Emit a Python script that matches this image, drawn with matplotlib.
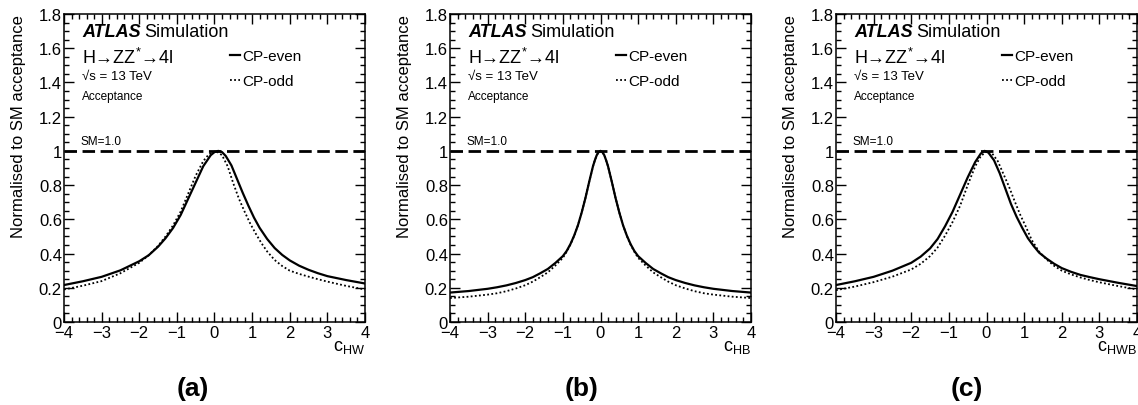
import matplotlib
matplotlib.use('Agg')
import matplotlib.pyplot as plt
from matplotlib.ticker import MultipleLocator, FuncFormatter

plt.rcParams['font.family'] = ['Liberation Sans', 'DejaVu Sans']
plt.rcParams['mathtext.default'] = 'regular'

# Werte
sm_level = 1.0

# (a) c_HW
hw_even_x = [-4, -3.5, -3, -2.5, -2, -1.75, -1.5, -1.3, -1.1, -0.9, -0.7, -0.5, -0.3, -0.1, 0.0, 0.1,
             0.2, 0.3, 0.45, 0.6, 0.75, 0.9, 1.05, 1.2, 1.4, 1.6, 1.8, 2.0, 2.25, 2.5, 2.75, 3, 3.5, 4]
hw_even_y = [0.216, 0.238, 0.264, 0.302, 0.355, 0.39, 0.44, 0.49, 0.55, 0.625, 0.72, 0.815, 0.91, 0.975,
             0.993, 1.0, 0.993, 0.97, 0.915, 0.835, 0.755, 0.68, 0.61, 0.55, 0.485, 0.432, 0.392, 0.36,
             0.329, 0.305, 0.285, 0.268, 0.245, 0.225]
hw_odd_x = [-4, -3.5, -3, -2.5, -2, -1.75, -1.5, -1.3, -1.1, -0.9, -0.7, -0.5, -0.3, -0.15, 0.03, 0.2,
            0.35, 0.5, 0.65, 0.8, 0.95, 1.1, 1.25, 1.4, 1.6, 1.8, 2.0, 2.25, 2.5, 2.75, 3, 3.5, 4]
hw_odd_y = [0.19, 0.212, 0.239, 0.285, 0.346, 0.39, 0.445, 0.50, 0.565, 0.645, 0.75, 0.855, 0.94, 0.98,
            1.0, 0.975, 0.91, 0.81, 0.72, 0.645, 0.575, 0.515, 0.46, 0.412, 0.362, 0.327, 0.30, 0.281,
            0.265, 0.25, 0.236, 0.211, 0.19]

# (b) c_HB
hb_x = [-4, -3.5, -3, -2.75, -2.5, -2.25, -2.0, -1.8, -1.6, -1.4, -1.2, -1.0, -0.9, -0.8, -0.7, -0.6,
        -0.5, -0.4, -0.3, -0.2, -0.15, -0.1, -0.05, 0, 0.05, 0.1, 0.15, 0.2, 0.3, 0.4, 0.5, 0.6, 0.7,
        0.8, 0.9, 1.0, 1.2, 1.4, 1.6, 1.8, 2.0, 2.25, 2.5, 2.75, 3, 3.5, 4]
hb_even_y = [0.172, 0.181, 0.194, 0.203, 0.214, 0.228, 0.245, 0.262, 0.285, 0.31, 0.345, 0.385, 0.415,
             0.455, 0.505, 0.565, 0.64, 0.725, 0.82, 0.91, 0.945, 0.975, 0.993, 1.0, 0.993, 0.975, 0.945,
             0.91, 0.82, 0.725, 0.64, 0.565, 0.505, 0.455, 0.415, 0.385, 0.345, 0.31, 0.285, 0.262,
             0.245, 0.228, 0.214, 0.203, 0.194, 0.181, 0.172]
hb_odd_y = [0.14, 0.148, 0.16, 0.168, 0.18, 0.196, 0.215, 0.236, 0.262, 0.29, 0.33, 0.375, 0.41, 0.452,
            0.503, 0.565, 0.64, 0.725, 0.82, 0.91, 0.945, 0.975, 0.993, 1.0, 0.993, 0.975, 0.945, 0.91,
            0.82, 0.725, 0.64, 0.565, 0.503, 0.452, 0.41, 0.375, 0.33, 0.29, 0.262, 0.236, 0.215, 0.196,
            0.18, 0.168, 0.16, 0.148, 0.14]

# (c) c_HWB
hwb_even_x = [-4, -3.5, -3, -2.5, -2, -1.75, -1.5, -1.3, -1.1, -0.9, -0.7, -0.5, -0.3, -0.15, -0.05,
              0.05, 0.2, 0.35, 0.5, 0.65, 0.8, 0.95, 1.1, 1.25, 1.4, 1.6, 1.8, 2.0, 2.25, 2.5, 2.75, 3,
              3.5, 4]
hwb_even_y = [0.216, 0.238, 0.264, 0.30, 0.346, 0.382, 0.43, 0.485, 0.56, 0.645, 0.745, 0.845, 0.935,
              0.985, 1.0, 0.99, 0.945, 0.87, 0.78, 0.69, 0.615, 0.55, 0.49, 0.445, 0.405, 0.37, 0.34,
              0.315, 0.293, 0.275, 0.262, 0.25, 0.229, 0.21]
hwb_odd_x = [-4, -3.5, -3, -2.5, -2, -1.75, -1.5, -1.3, -1.1, -0.9, -0.7, -0.5, -0.3, -0.15, 0.02,
             0.15, 0.3, 0.45, 0.6, 0.75, 0.9, 1.05, 1.2, 1.4, 1.6, 1.8, 2.0, 2.25, 2.5, 2.75, 3, 3.5, 4]
hwb_odd_y = [0.186, 0.207, 0.233, 0.265, 0.307, 0.34, 0.385, 0.435, 0.505, 0.585, 0.68, 0.80, 0.91,
             0.97, 1.0, 0.985, 0.94, 0.865, 0.79, 0.705, 0.625, 0.555, 0.48, 0.41, 0.365, 0.328, 0.30,
             0.278, 0.26, 0.245, 0.232, 0.21, 0.19]

panels = [
    ('$c_{HW}$', '(a)', hw_even_x, hw_even_y, hw_odd_x, hw_odd_y),
    ('$c_{HB}$', '(b)', hb_x, hb_even_y, hb_x, hb_odd_y),
    ('$c_{HWB}$', '(c)', hwb_even_x, hwb_even_y, hwb_odd_x, hwb_odd_y),
]

W, H = 1138, 406
fig = plt.figure(figsize=(W / 100, H / 100), dpi=100)

lefts = [64, 450, 836]
tag_x = [193, 582, 967]
ax_w, ax_top, ax_bot = 301, 15, 323

for i, (xlab, tag, ex, ey, ox, oy) in enumerate(panels):
    ax = fig.add_axes([lefts[i] / W, (H - ax_bot) / H, ax_w / W, (ax_bot - ax_top) / H])

    ax.plot(ex, ey, color='black', lw=1.6, label='CP-even', solid_joinstyle='round')
    ax.plot(ox, oy, color='black', lw=1.3, ls=(0, (1, 1.3)), label='CP-odd')
    ax.axhline(sm_level, color='black', lw=2.0, ls=(0, (4.5, 2)))

    ax.set_xlim(-4, 4)
    ax.set_ylim(0, 1.8)
    ax.xaxis.set_major_locator(MultipleLocator(1))
    ax.xaxis.set_minor_locator(MultipleLocator(0.2))
    ax.yaxis.set_major_locator(MultipleLocator(0.2))
    ax.yaxis.set_minor_locator(MultipleLocator(0.05))
    ax.yaxis.set_major_formatter(FuncFormatter(lambda v, p: '%g' % round(v, 2)))
    ax.tick_params(which='both', direction='in', top=True, right=True, width=1.0, labelsize=12)
    ax.tick_params(which='major', length=7.5)
    ax.tick_params(which='minor', length=3.8)
    ax.tick_params(axis='x', pad=2)
    ax.tick_params(axis='y', pad=1.5)
    for s in ax.spines.values():
        s.set_linewidth(1.1)

    ax.set_xlabel(xlab, loc='right', fontsize=13, labelpad=-1)
    ax.set_ylabel('Normalised to SM acceptance', loc='top', fontsize=12, labelpad=9)

    ax.text(0.06, 0.942, 'ATLAS', transform=ax.transAxes, fontsize=13, fontweight='bold',
            fontstyle='italic', va='center')
    ax.text(0.265, 0.942, 'Simulation', transform=ax.transAxes, fontsize=13, va='center')
    ax.text(0.06, 0.860, 'H→ZZ$^{*}$→4l', transform=ax.transAxes, fontsize=13, va='center')
    ax.text(0.06, 0.799, '√s = 13 TeV', transform=ax.transAxes, fontsize=9.5, va='center')
    ax.text(0.06, 0.734, 'Acceptance', transform=ax.transAxes, fontsize=8.5, va='center')
    ax.text(-3.55, sm_level + 0.02, 'SM=1.0', fontsize=8.5, va='bottom')

    ax.legend(loc='upper left', bbox_to_anchor=(0.55, 0.885), frameon=False, fontsize=11,
              handlelength=0.7, handletextpad=0.15, labelspacing=0.7, borderpad=0, borderaxespad=0)

    fig.text(tag_x[i] / W, 1 - 389 / H, tag, fontsize=19, fontweight='bold', ha='center', va='center')

fig.savefig('out.png', dpi=100)
